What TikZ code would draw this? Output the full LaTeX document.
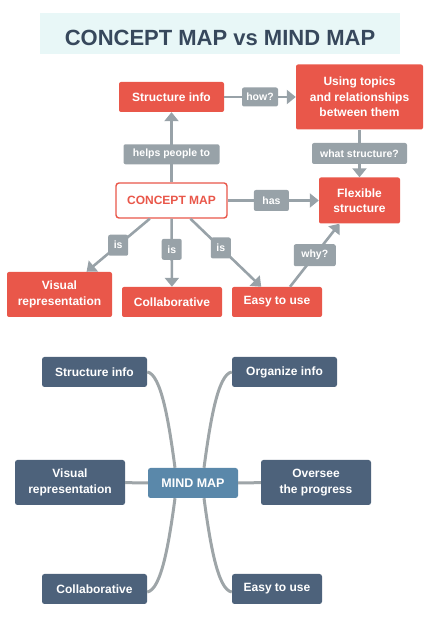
\documentclass[tikz,border=0pt]{standalone}
\usepackage{fontspec}
\setmainfont{Liberation Sans}
\usetikzlibrary{arrows.meta}
\definecolor{cmred}{HTML}{E9574A}
\definecolor{cmgray}{HTML}{98A2A8}
\definecolor{mmslate}{HTML}{4D627B}
\definecolor{mmblue}{HTML}{5A88AA}
\definecolor{mmline}{HTML}{9EA5A8}
\definecolor{bandcyan}{HTML}{E8F7F7}
\definecolor{titleink}{HTML}{37485C}
\tikzset{boxsize/.style 2 args = {minimum width=#1, minimum height=#2}}
\tikzset{
band/.style = {fill=bandcyan, inner sep=0pt},
titletext/.style = {text=titleink, inner sep=0pt, font=\bfseries\fontsize{22}{26}\selectfont},
redbox/.style = {fill=cmred, text=white, inner sep=0pt, rounded corners=2pt, align=center,
                 font=\bfseries\fontsize{12}{15.5}\selectfont},
conceptbox/.style = {fill=white, draw=cmred, line width=1.4pt, text=cmred, inner sep=0pt,
                     rounded corners=3pt, font=\bfseries\fontsize{12}{15.5}\selectfont},
tag/.style = {fill=cmgray, text=white, inner sep=0pt, rounded corners=2pt,
              font=\bfseries\fontsize{10.5}{12}\selectfont},
link/.style = {draw=cmgray, line width=2.6pt, -{Triangle[length=9pt,width=14pt]}},
mindbox/.style = {fill=mmslate, text=white, inner sep=0pt, rounded corners=2.5pt, align=center,
                  font=\bfseries\fontsize{12}{15.5}\selectfont},
hubbox/.style = {fill=mmblue, text=white, inner sep=0pt, rounded corners=2.5pt,
                 font=\bfseries\fontsize{12.5}{15}\selectfont},
branch/.style = {draw=mmline, line width=3pt},
}

\begin{document}
\begin{tikzpicture}[x=1pt, y=1pt]
			\useasboundingbox (0,0) rectangle (447,634);
			% title
			\node [band, boxsize={360pt}{41pt}] (0) at (220, 600.5) {};
			\node [titletext] (00) at (220, 596.5) {CONCEPT MAP vs MIND MAP};
			% concept map
			\node [redbox, boxsize={105pt}{30pt}] (1) at (171.5, 537) {Structure info};
			\node [redbox, boxsize={127pt}{65pt}] (2) at (359.5, 537) {Using topics\\and relationships\\between them};
			\node [conceptbox, boxsize={111pt}{35pt}] (3) at (171.5, 433.5) {CONCEPT MAP};
			\node [redbox, boxsize={81pt}{46pt}] (4) at (359.5, 433.5) {Flexible\\structure};
			\node [redbox, boxsize={105pt}{45pt}] (5) at (59.5, 339.5) {Visual\\representation};
			\node [redbox, boxsize={100pt}{30pt}] (6) at (172, 332) {Collaborative};
			\node [redbox, boxsize={90pt}{30pt}] (7) at (277, 332) {Easy to use};
			\draw [link] (1) -- node [tag, boxsize={36pt}{19pt}] (8) {how?} (2);
			\draw [link] (3) -- node [tag, boxsize={96pt}{20pt}, pos=.4] (9) {helps people to} (1);
			\draw [link] (2) -- node [tag, boxsize={95pt}{21pt}] (10) {what structure?} (4);
			\draw [link] (3) -- node [tag, boxsize={35pt}{21pt}, pos=.48] (11) {has} (4);
			\draw [link] (3) -- node [tag, boxsize={20pt}{21pt}] (12) {is} (5);
			\draw [link] (3) -- node [tag, boxsize={20pt}{21pt}, pos=.45] (13) {is} (6);
			\draw [link] (3) -- node [tag, boxsize={20pt}{21pt}, pos=.43] (14) {is} (7);
			\draw [link] ([xshift=13pt]7.north) -- node [tag, boxsize={42pt}{22pt}] (15) {why?} ([xshift=-20pt]4.south);
			% mind map
			\node [mindbox, boxsize={105pt}{30pt}] (16) at (94.5, 262) {Structure info};
			\node [mindbox, boxsize={105pt}{30pt}] (17) at (284.5, 262) {Organize info};
			\node [mindbox, boxsize={110pt}{45pt}] (18) at (70, 151.5) {Visual\\representation};
			\node [hubbox, boxsize={90pt}{30pt}] (19) at (193, 151) {MIND MAP};
			\node [mindbox, boxsize={110pt}{45pt}] (20) at (316, 151.5) {Oversee\\the progress};
			\node [mindbox, boxsize={105pt}{30pt}] (21) at (94.5, 45) {Collaborative};
			\node [mindbox, boxsize={90pt}{30pt}] (22) at (277, 45) {Easy to use};
			\draw [branch] (16.east) .. controls +(14,-2) and +(-6,45) .. ([xshift=-18pt]19.north);
			\draw [branch] (17.west) .. controls +(-14,-2) and +(6,45) .. ([xshift=11pt]19.north);
			\draw [branch] (18) -- (19);
			\draw [branch] (19) -- (20);
			\draw [branch] ([xshift=-18pt]19.south) .. controls +(-6,-45) and +(14,2) .. ([yshift=-3pt]21.east);
			\draw [branch] ([xshift=11pt]19.south) .. controls +(6,-45) and +(-14,2) .. ([yshift=-3pt]22.west);
		\end{tikzpicture}
\end{document}
